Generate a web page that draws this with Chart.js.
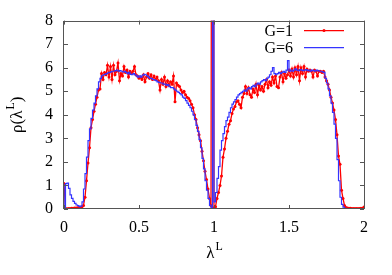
<!DOCTYPE html>
<html>
<head>
<meta charset="utf-8">
<script src="https://cdn.jsdelivr.net/npm/chart.js@4.4.1/dist/chart.umd.min.js"></script>
<style>
    html, body { margin: 0; padding: 0; background: #fff; }
    #wrap { width: 392px; height: 275px; }
</style>
</head>
<body>
<div id="wrap"><canvas id="rhoChart"></canvas></div>
<script>

// λ^L sampled every 0.01 from 0 to 2
const lambdaStep = 0.01;

// G=1, one value per lambda point (the big value near 1 is the spike that runs off the top)
const rhoG1 = [
    1.08, 0.02, 0.01, 0.02, 0.02, 0.03, 0.03, 0.04, 0.04, 0.05,
    0.06, 0.07, 0.1, 0.15, 0.5, 1.2, 1.95, 2.6, 3.45, 3.8,
    4.15, 4.45, 4.75, 5.05, 5.1, 5.75, 5.5, 5.8, 5.7, 6.1,
    5.6, 6.05, 5.5, 6.1, 5.7, 5.85, 6.2, 5.45, 5.75, 5.65,
    6.05, 5.8, 5.9, 5.6, 5.85, 5.75, 5.85, 6.05, 5.7, 5.65,
    5.55, 5.6, 5.5, 5.7, 5.4, 5.6, 5.75, 5.55, 5.7, 5.5,
    5.65, 5.5, 5.6, 5.45, 5.05, 5.5, 5.3, 5.6, 5.2, 5.45,
    5.25, 5.4, 5.3, 5.65, 4.55, 5.35, 5.25, 5.2, 5.05, 4.95,
    5.0, 4.85, 4.75, 4.7, 4.6, 4.45, 4.3, 4.0, 3.8, 3.45,
    3.15, 2.9, 2.45, 2.05, 1.6, 1.25, 0.85, 0.45, 0.15, 40,
    0.05, 0.1, 0.45, 0.7, 1.0, 1.4, 2.2, 2.55, 3.0, 3.3,
    3.6, 3.75, 4.05, 4.25, 4.35, 4.55, 4.6, 4.45, 4.3, 4.75,
    4.9, 5.2, 4.9, 5.15, 4.85, 4.75, 5.1, 4.95, 5.3, 4.85,
    5.25, 5.05, 5.2, 5.0, 5.3, 5.5, 5.15, 5.4, 5.25, 5.6,
    5.35, 5.65, 5.2, 5.15, 5.6, 5.8, 5.4, 5.75, 5.55, 5.7,
    5.9, 5.65, 5.95, 5.6, 6.0, 5.7, 6.05, 5.45, 6.0, 5.75,
    6.05, 5.6, 5.95, 5.85, 5.9, 5.85, 5.6, 5.9, 5.85, 5.65,
    5.85, 5.85, 5.8, 5.85, 5.6, 5.45, 5.3, 5.05, 4.75, 4.5,
    4.2, 3.8, 3.15, 2.25, 1.9, 0.8, 0.45, 0.15, 0.06, 0.04,
    0.03, 0.03, 0.02, 0.02, 0.02, 0.02, 0.02, 0.02, 0.03, 0.03,
    0.08
];

// G=6, histogram steps (value of each bin, starting at its left edge)
const rhoG6 = [
    1.05, 0.02, 1.08, 1.1, 0.88, 0.6, 0.45, 0.32, 0.24, 0.17,
    0.14, 0.1, 0.12, 0.3, 0.85, 1.5, 2.2, 2.9, 3.4, 3.85,
    4.2, 4.5, 4.8, 5.1, 5.4, 5.55, 5.65, 5.7, 5.72, 5.75,
    5.78, 5.8, 5.82, 5.85, 5.85, 5.88, 5.9, 5.85, 5.88, 5.85,
    5.82, 5.85, 5.8, 5.75, 5.8, 5.72, 5.7, 5.75, 5.7, 5.65,
    5.6, 5.65, 5.6, 5.68, 5.72, 5.7, 5.65, 5.6, 5.55, 5.55,
    5.5, 5.48, 5.45, 5.4, 5.38, 5.35, 5.35, 5.3, 5.3, 5.25,
    5.28, 5.2, 5.15, 5.15, 5.1, 5.05, 5.0, 4.95, 4.9, 4.85,
    4.75, 4.7, 4.6, 4.5, 4.4, 4.3, 4.15, 4.0, 3.8, 3.55,
    3.3, 2.95, 2.6, 2.15, 1.7, 1.2, 0.8, 0.45, 0.15, 0.05,
    40, 0.3, 0.7, 1.3, 1.8, 2.5, 2.9, 3.2, 3.5, 3.75,
    3.9, 4.1, 4.3, 4.45, 4.55, 4.65, 4.75, 4.85, 4.9, 4.95,
    5.0, 5.05, 5.0, 5.1, 5.15, 5.1, 5.2, 5.25, 5.2, 5.3,
    5.35, 5.3, 5.4, 5.45, 5.5, 5.45, 5.55, 5.6, 5.7, 5.85,
    6.0, 5.75, 5.7, 5.75, 5.8, 5.75, 5.8, 5.85, 5.8, 5.9,
    6.3, 5.85, 5.9, 5.85, 5.9, 5.95, 5.9, 5.88, 5.92, 5.9,
    5.88, 5.9, 5.92, 5.88, 5.9, 5.85, 5.9, 5.88, 5.85, 5.9,
    5.88, 5.85, 5.85, 5.82, 5.8, 5.55, 5.35, 5.1, 4.8, 4.5,
    4.1, 3.6, 3.0, 2.1, 1.2, 0.5, 0.2, 0.08, 0.03, 0.02,
    0.02, 0.01, 0.01, 0.01, 0.01, 0.01, 0.01, 0.01, 0.01, 0.01,
    0.01
];

const seriesLabels = ['G=1', 'G=6'];
const xTicks = [0, 0.5, 1, 1.5, 2];
const yTicks = [0, 1, 2, 3, 4, 5, 6, 7, 8];

const fontFamily = "'Liberation Serif', 'DejaVu Serif', serif";

function toPoints(values) {
    return values.map((v, i) => ({ x: +(i * lambdaStep).toFixed(2), y: v }));
}

// gnuplot-like frame, inward ticks, legend and axis titles with superscripts
const gnuplotLook = {
    id: 'gnuplotLook',
    afterDatasetsDraw(chart) {
        const ctx = chart.ctx;
        const a = chart.chartArea;
        const xs = chart.scales.x;
        const ys = chart.scales.y;
        const tick = 4;

        ctx.save();
        ctx.strokeStyle = '#555';
        ctx.lineWidth = 1;
        ctx.strokeRect(Math.round(a.left) - 0.5, Math.round(a.top) + 0.5,
            Math.round(a.right - a.left) + 1, Math.round(a.bottom - a.top) - 1);

        ctx.beginPath();
        for (const v of xTicks) {
            const px = Math.round(xs.getPixelForValue(v)) + 0.5;
            ctx.moveTo(px, a.bottom);
            ctx.lineTo(px, a.bottom - tick);
            ctx.moveTo(px, a.top);
            ctx.lineTo(px, a.top + tick);
        }
        for (const v of yTicks) {
            const py = Math.round(ys.getPixelForValue(v)) + 0.5;
            ctx.moveTo(a.left, py);
            ctx.lineTo(a.left + tick, py);
            ctx.moveTo(a.right, py);
            ctx.lineTo(a.right - tick, py);
        }
        ctx.stroke();

        // legend
        ctx.font = '16px ' + fontFamily;
        ctx.textBaseline = 'middle';
        ctx.textAlign = 'right';
        chart.data.datasets.forEach((ds, i) => {
            const y = a.top + 10 + i * 17;
            ctx.fillStyle = '#000';
            ctx.fillText(ds.label, a.right - 71, y + 1);
            ctx.strokeStyle = ds.borderColor;
            ctx.lineWidth = ds.borderWidth;
            ctx.beginPath();
            ctx.moveTo(a.right - 60, y);
            ctx.lineTo(a.right - 20, y);
            ctx.stroke();
            if (ds.pointRadius > 0) {
                ctx.fillStyle = ds.borderColor;
                ctx.beginPath();
                ctx.arc(a.right - 40, y, ds.pointRadius, 0, Math.PI * 2);
                ctx.fill();
            }
        });

        // axis titles
        ctx.fillStyle = '#000';
        ctx.textAlign = 'left';
        ctx.textBaseline = 'alphabetic';
        const big = '17px ' + fontFamily;
        const small = '12px ' + fontFamily;

        // x: λ^L
        ctx.font = big;
        const wl = ctx.measureText('λ').width;
        ctx.font = small;
        const wL = ctx.measureText('L').width;
        let x0 = (a.left + a.right) / 2 - (wl + wL) / 2;
        ctx.font = big;
        ctx.fillText('λ', x0, 258);
        ctx.font = small;
        ctx.fillText('L', x0 + wl + 1, 250);

        // y: ρ(λ^L)
        ctx.translate(22, (a.top + a.bottom) / 2);
        ctx.rotate(-Math.PI / 2);
        ctx.font = big;
        const w1 = ctx.measureText('ρ(λ').width;
        const w3 = ctx.measureText(')').width;
        ctx.font = small;
        const w2 = ctx.measureText('L').width + 1;
        x0 = -(w1 + w2 + w3) / 2;
        ctx.font = big;
        ctx.fillText('ρ(λ', x0, 0);
        ctx.font = small;
        ctx.fillText('L', x0 + w1 + 1, -8);
        ctx.font = big;
        ctx.fillText(')', x0 + w1 + w2, 0);
        ctx.restore();
    }
};

window.onload = function() {
    new Chart(document.getElementById('rhoChart'), {
        type: 'line',
        data: {
            datasets: [{
                label: seriesLabels[0],
                data: toPoints(rhoG1),
                borderColor: '#ff0000',
                backgroundColor: '#ff0000',
                borderWidth: 1.3,
                pointRadius: 1.5,
                pointBorderWidth: 0,
                pointBackgroundColor: '#ff0000',
                tension: 0,
                order: 1,
            }, {
                label: seriesLabels[1],
                data: toPoints(rhoG6),
                borderColor: '#3434ff',
                backgroundColor: '#3434ff',
                borderWidth: 1.2,
                pointRadius: 0,
                stepped: 'after',
                order: 0,
            }]
        },
        options: {
            responsive: true,
            maintainAspectRatio: false,
            animation: false,
            devicePixelRatio: 1,
            layout: {
                padding: { top: 19, right: 28, left: 0, bottom: 0 }
            },
            scales: {
                x: {
                    type: 'linear',
                    min: 0,
                    max: 2,
                    afterFit: s => { s.height = 66; },
                    afterBuildTicks: s => { s.ticks = xTicks.map(v => ({ value: v })); },
                    grid: { display: false, drawTicks: false },
                    border: { display: false },
                    ticks: {
                        color: 'black',
                        padding: 9,
                        maxRotation: 0,
                        font: { family: fontFamily, size: 16 },
                        callback: v => String(v),
                    }
                },
                y: {
                    min: 0,
                    max: 8,
                    afterFit: s => { s.width = 64; },
                    afterBuildTicks: s => { s.ticks = yTicks.map(v => ({ value: v })); },
                    grid: { display: false, drawTicks: false },
                    border: { display: false },
                    ticks: {
                        color: 'black',
                        padding: 11,
                        font: { family: fontFamily, size: 16 },
                        callback: v => String(v),
                    }
                }
            },
            plugins: {
                legend: { display: false },
                tooltip: { enabled: false }
            }
        },
        plugins: [gnuplotLook]
    });
};
</script>
</body>
</html>
